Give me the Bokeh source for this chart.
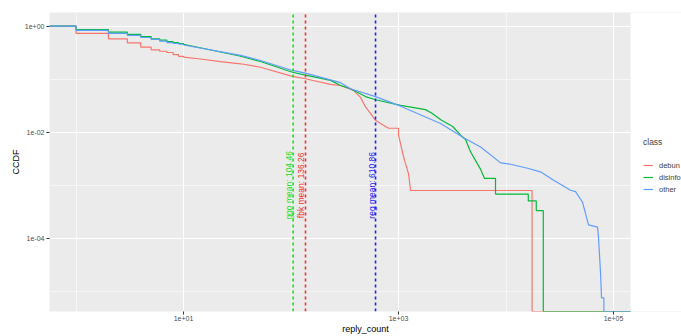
import math
from bokeh.plotting import figure
from bokeh.models import (Range1d, FixedTicker, Legend, LegendItem, ColumnDataSource,
                          BoxAnnotation)
from bokeh.core.properties import value
from bokeh.embed import file_html
from bokeh.resources import INLINE

# ---------------- data ----------------
class_names = ["debun", "disinfo", "other"]
class_colors = ["#F8766D", "#00BA38", "#619CFF"]

deb_x = [1, 2, 3, 4, 5, 6, 7, 8, 9, 10, 14.4, 22, 34, 52, 103, 136, 233, 289, 381, 443,
         493, 549, 611, 680, 808, 1000, 1114, 1240, 1294, 17460]
deb_ccdf = [0.73, 0.575, 0.484, 0.40, 0.357, 0.336, 0.318, 0.29, 0.27, 0.26, 0.24, 0.215,
            0.195, 0.168, 0.113, 0.102, 0.08, 0.076, 0.0615, 0.0454, 0.0299, 0.0227, 0.0168,
            0.0146, 0.0119, 0.0088, 0.00344, 0.00163, 0.0008, 0]
deb_jump = [1] * 10 + [0] * 15 + [1, 0, 0, 0, 1]

dis_x = [1, 2, 3, 4, 5, 6, 7, 8, 9, 10, 34, 52, 103, 136, 233, 289, 357, 493, 611, 1045,
         1780, 2030, 2510, 3170, 3780, 4200, 4670, 5800, 6310, 7980, 16100, 19100, 22200]
dis_ccdf = [0.86, 0.77, 0.70, 0.635, 0.575, 0.546, 0.512, 0.49, 0.47, 0.455, 0.27, 0.215,
            0.135, 0.119, 0.095, 0.076, 0.066, 0.047, 0.041, 0.032, 0.0267, 0.023, 0.0168,
            0.013, 0.0088, 0.0073, 0.0043, 0.002, 0.00135, 0.000685, 0.00051, 0.000333, 0]
dis_jump = [1] * 10 + [0] * 19 + [1, 1, 1, 1]

oth_x = [1, 2, 3, 4, 5, 6, 7, 8, 9, 10, 34, 52, 103, 136, 289, 357, 611, 1045, 2460, 4030,
         5800, 8900, 11000, 15850, 20900, 27700, 32100, 39800, 44300, 51500, 58500, 71000,
         72500, 75700, 77300, 81300]
oth_ccdf = [0.83, 0.73, 0.67, 0.61, 0.56, 0.52, 0.49, 0.47, 0.455, 0.44, 0.28, 0.225, 0.146,
            0.13, 0.086, 0.066, 0.047, 0.031, 0.0146, 0.0079, 0.0053, 0.00265, 0.0025, 0.0021,
            0.0018, 0.00125, 0.00105, 0.00081, 0.00076, 0.00048, 0.00018, 0.000164, 0.000102,
            2.2e-5, 7.6e-6, 0]
oth_jump = [1] * 10 + [0] * 25 + [1]

mean_values = [104.46, 136.26, 610.86]
mean_labels = ["ggo mean: 104.46", "fbk mean: 136.26", "reg mean: 610.86"]
mean_colors = ["#22DD22", "#EE3333", "#2222EE"]
mean_label_y = [1e-3, 1e-3, 1e-3]

x_ticks = [10, 1000, 100000]
x_tick_labels = ["1e+01", "1e+03", "1e+05"]
x_minor = [1, 100, 10000]
y_ticks = [1e-4, 1e-2, 1.0]
y_tick_labels = ["1e-04", "1e-02", "1e+00"]
y_minor = [1e-5, 1e-3, 1e-1]

# ---------------- layout ----------------
# panel: log10 x from -0.247 to 5.158 (581 px); the frame continues under the legend
X_LEFT, X_RIGHT = 10 ** -0.247, 10 ** 5.158
X_FRAME_END = 10 ** (-0.247 + 632 / 107.5)
Y_BOTTOM, Y_TOP = 10 ** -5.376, 10 ** 0.256
FONT = "Liberation Sans"

p = figure(width=681, height=336, x_axis_type="log", y_axis_type="log",
           x_range=Range1d(X_LEFT, X_FRAME_END), y_range=Range1d(Y_BOTTOM, Y_TOP),
           output_backend="svg", toolbar_location=None,
           min_border_left=49, min_border_right=0, min_border_top=12, min_border_bottom=24)
p.background_fill_color = "#EBEBEB"
p.border_fill_color = "white"
p.outline_line_color = None

for ax, ticks, labels, minor in ((p.xaxis, x_ticks, x_tick_labels, x_minor),
                                 (p.yaxis, y_ticks, y_tick_labels, y_minor)):
    ax.ticker = FixedTicker(ticks=ticks, minor_ticks=minor)
    ax.major_label_overrides = dict(zip(ticks, labels))
    ax.axis_line_color = None
    ax.major_tick_line_color = "#333333"
    ax.major_tick_out = 3
    ax.major_tick_in = 0
    ax.minor_tick_out = 0
    ax.minor_tick_in = 0
    ax.major_label_text_font = FONT
    ax.major_label_text_font_size = "7px"
    ax.major_label_text_color = "#4D4D4D"
    ax.axis_label_text_font = FONT
    ax.axis_label_text_font_size = "9px"
    ax.axis_label_text_font_style = "normal"
    ax.axis_label_text_color = "black"

p.xaxis.axis_label = "reply_count"
p.yaxis.axis_label = "CCDF"
p.xaxis.major_label_standoff = 1
p.yaxis.major_label_standoff = 2
p.xaxis.axis_label_standoff = 0
p.yaxis.axis_label_standoff = 1

for g, ticks, minor in ((p.xgrid, x_ticks, x_minor), (p.ygrid, y_ticks, y_minor)):
    g.ticker = FixedTicker(ticks=ticks, minor_ticks=minor)
    g.grid_line_color = "white"
    g.grid_line_width = 1.1
    g.minor_grid_line_color = "white"
    g.minor_grid_line_width = 0.55


def ccdf_path(xs, ys, jumps):
    px, py = [X_LEFT], [1.0]
    for x, y, j in zip(xs, ys, jumps):
        y = y if y > 0 else Y_BOTTOM
        if j:
            px.append(x)
            py.append(py[-1])
        px.append(x)
        py.append(y)
    px.append(X_RIGHT)
    py.append(py[-1])
    return px, py


key_bg = p.quad(left=[], right=[], top=[], bottom=[], fill_color="#EBEBEB", line_color=None)

items = []
for name, col, xs, ys, js in zip(class_names, class_colors,
                                 (deb_x, dis_x, oth_x), (deb_ccdf, dis_ccdf, oth_ccdf),
                                 (deb_jump, dis_jump, oth_jump)):
    px, py = ccdf_path(xs, ys, js)
    r = p.line(px, py, line_color=col, line_width=1.2)
    items.append(LegendItem(label=name, renderers=[key_bg, r]))

# vertical dashed mean lines (segments spanning the panel) and their labels
src = ColumnDataSource(dict(x=mean_values, y=mean_label_y, t=mean_labels, c=mean_colors,
                            y0=[Y_BOTTOM] * len(mean_values), y1=[Y_TOP] * len(mean_values)))
p.segment(x0="x", x1="x", y0="y0", y1="y1", line_color="c", line_dash="3 3",
          line_width=1.6, source=src)
p.text(x="x", y="y", text="t", text_color="c", source=src, angle=math.pi / 2,
       x_offset=-4, text_align="center", text_baseline="middle",
       text_font=value(FONT), text_font_size="8.5px")

# white margin to the right of the panel (legend area)
p.add_layout(BoxAnnotation(left=X_RIGHT, fill_color="white", fill_alpha=1.0,
                           line_color=None))

legend = Legend(items=items, location=(594, 116), title="class",
                title_text_font=FONT, title_text_font_size="8.5px", title_standoff=12,
                title_text_font_style="normal",
                label_text_font=FONT, label_text_font_size="7.5px",
                glyph_width=10, glyph_height=12, label_height=12, label_standoff=6,
                spacing=0, padding=0, margin=0, border_line_color=None,
                background_fill_color="white", background_fill_alpha=1.0)
p.add_layout(legend, "center")

open("out.html", "w").write(file_html(p, INLINE))
